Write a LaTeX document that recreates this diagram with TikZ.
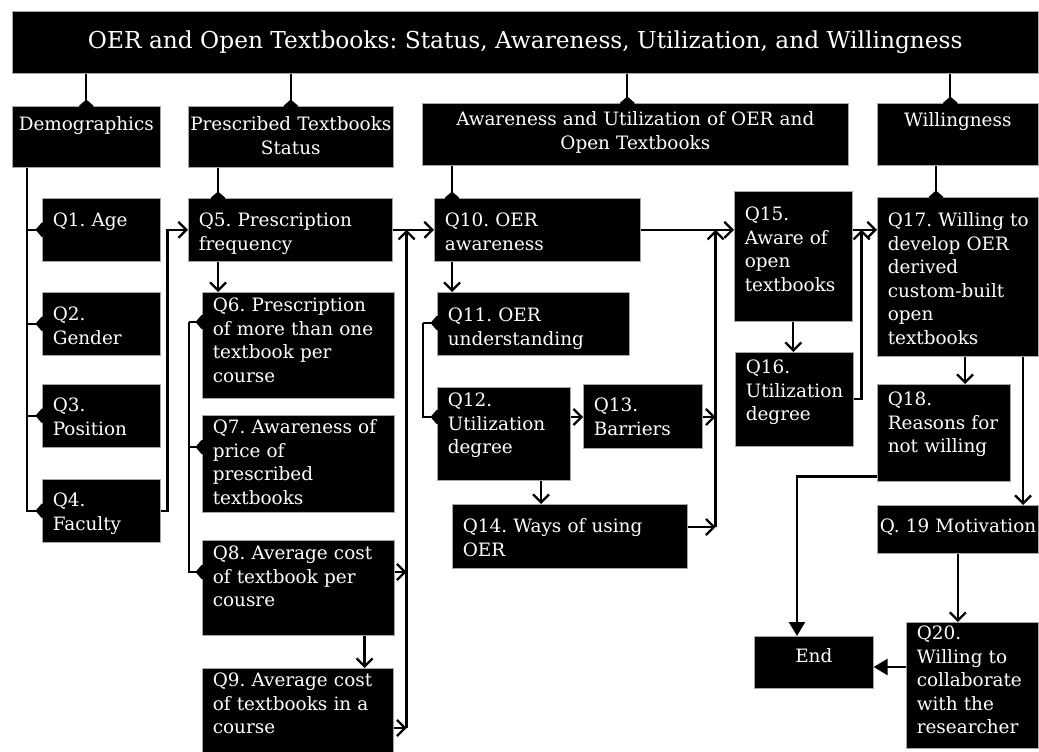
\documentclass[tikz,border=0pt]{standalone}
\usepackage{fontspec}
\setmainfont{DejaVu Serif}
\usetikzlibrary{positioning,arrows.meta,calc}
\hyphenpenalty=10000
\exhyphenpenalty=10000
\frenchspacing

\begin{document}
\begin{tikzpicture}[
  x=1pt, y=-1pt,
  box/.style={
    draw=black!35,
    line width=0.6pt,
    fill=black,
    text=white,
    anchor=north west,
    inner ysep=0pt,
    font=\fontsize{18.4}{23.5}\selectfont
  },
  % width, height, space above the first line
  qbox/.style n args={3}{
    box, align=left, inner xsep=10.5pt,
    text width=#1-21, text height=#3+13.4, text depth=#2-#3-13.4
  },
  hdr/.style n args={3}{
    box, align=center, inner xsep=0pt,
    text width=#1, text height=#3+13.4, text depth=#2-#3-13.4
  },
  tree/.style={line width=2.3pt, -{Diamond[length=13pt,width=15pt]}, shorten >=-6.5pt},
  flow/.style={line width=2.3pt, -{Straight Barb[length=8pt,width=16pt]}},
  stop/.style={line width=2.3pt, -{Triangle[length=14pt,width=16pt]}}
]
\useasboundingbox (0,0) rectangle (1039,752);

% =========================================================
% TITLE AND GROUPS
% =========================================================

\node[box, minimum width=1026pt, minimum height=62pt, inner sep=0pt,
  font=\fontsize{23.3}{28}\selectfont] (title) at (12,11)
{OER and Open Textbooks: Status, Awareness, Utilization, and Willingness};

\node[hdr={148}{61}{11}] (demo) at (12,106) {Demographics};
\node[hdr={205}{61}{11}] (presc) at (188,106) {Prescribed~Textbooks\\Status};
\node[hdr={426}{62}{9}] (aware) at (422,103)
{Awareness and Utilization of OER and\\Open Textbooks};
\node[hdr={161}{62}{10}] (will) at (877,103) {Willingness};

% =========================================================
% QUESTIONS
% =========================================================

\node[qbox={118}{63}{15}] (q1) at (42,198) {Q1. Age};
\node[qbox={118}{63}{15}] (q2) at (42,292) {Q2.\\Gender};
\node[qbox={118}{63}{14}] (q3) at (42,384) {Q3.\\Position};
\node[qbox={118}{63}{14}] (q4) at (42,479) {Q4.\\Faculty};

\node[qbox={204}{63}{15}] (q5) at (188,198) {Q5. Prescription\\frequency};
\node[qbox={192}{106}{6}] (q6) at (202,292)
{Q6. Prescription\\of~more~than~one\\textbook per\\course};
\node[qbox={192}{97}{5}] (q7) at (202,415)
{Q7.~Awareness~of\\price of\\prescribed\\textbooks};
\node[qbox={192}{95}{6}] (q8) at (202,540)
{Q8.~Average~cost\\of~textbook~per\\cousre};
\node[qbox={191}{84}{5}] (q9) at (202,668)
{Q9.~Average~cost\\of~textbooks~in~a\\course};

\node[qbox={206}{63}{15}] (q10) at (434,198) {Q10. OER\\awareness};
\node[qbox={192}{63}{16}] (q11) at (437,292) {Q11. OER\\understanding};
\node[qbox={133}{93}{6}] (q12) at (437,387) {Q12.\\Utilization\\degree};
\node[qbox={119}{64}{14}] (q13) at (583,384) {Q13.\\Barriers};
\node[qbox={235}{64}{15}] (q14) at (452,504) {Q14. Ways of using\\OER};

\node[qbox={118}{130}{16}] (q15) at (734,191) {Q15.\\Aware of\\open\\textbooks};
\node[qbox={118}{94}{8}] (q16) at (735,352) {Q16.\\Utilization\\degree};

\node[qbox={161}{159}{16}] (q17) at (877,197)
{Q17.~Willing~to\\develop OER\\derived\\custom-built\\open\\textbooks};
\node[qbox={133}{97}{8}] (q18) at (877,384) {Q18.\\Reasons~for\\not willing};
\node[qbox={161}{48}{14}, inner xsep=2.5pt, text width=156pt] (q19) at (877,505)
{Q.~19~Motivation};
\node[qbox={132}{126}{4}] (q20) at (906,622)
{Q20.\\Willing to\\collaborate\\with the\\researcher};
\node[hdr={119}{52}{13}] (fin) at (754,636) {End};

% =========================================================
% TREE LINKS
% =========================================================

\draw[tree] (title.south -| demo.north) -- (demo.north);
\draw[tree] (title.south -| presc.north) -- (presc.north);
\coordinate (a0) at ([xshift=-8pt]aware.north);
\draw[tree] (title.south -| a0) -- (a0);
\coordinate (w0) at ([xshift=-7.5pt]will.north);
\draw[tree] (title.south -| w0) -- (w0);

\coordinate (dbus) at ([xshift=15pt]demo.south west);
\foreach \q in {q1,q2,q3,q4}
  \draw[tree] (dbus) |- (\q.west);

\coordinate (p5) at ([xshift=30pt]q5.north west);
\draw[tree] (presc.south -| p5) -- (p5);

\coordinate (b6) at ([xshift=-13pt,yshift=-30pt]q6.north west);
\draw[tree] (b6) -- (b6 -| q6.west);
\draw[tree] (b6) |- ([yshift=-32pt]q7.north west);
\draw[tree] (b6) |- ([yshift=-32pt]q8.north west);

\coordinate (p10) at ([xshift=18pt]q10.north west);
\draw[tree] (aware.south -| p10) -- (p10);

\coordinate (b11) at ([xshift=-14pt,yshift=-31pt]q11.north west);
\draw[tree] (b11) -- (b11 -| q11.west);
\draw[tree] (b11) |- ([yshift=-30pt]q12.north west);

\coordinate (p17) at ([xshift=59pt]q17.north west);
\draw[tree] (will.south -| p17) -- (p17);

% =========================================================
% FLOW
% =========================================================

% prescribed textbooks
\draw[flow] (q4.east) -- ++(7,0) |- (q5.west);
\draw[flow] (q5.south -| p5) -- (q6.north -| p5);
\coordinate (p9) at ([xshift=-30pt]q8.south east);
\draw[flow] (p9) -- (p9 |- q9.north);

\coordinate (j1) at ([xshift=14pt]q5.east);
\coordinate (r8) at ([yshift=-32pt]q8.north east);
\coordinate (r9) at ([yshift=-60pt]q9.north east);
\draw[flow] (q5.east) -- (q10.west);
\draw[flow] (r8) -- (r8 -| j1);
\draw[flow] (r9) -- (r9 -| j1);
\draw[flow] (r9 -| j1) -- (j1);

% awareness and utilization
\draw[flow] (q10.south -| p10) -- (q11.north -| p10);
\coordinate (r12) at ([yshift=-30pt]q12.north east);
\draw[flow] (r12) -- (r12 -| q13.west);
\coordinate (p14) at ([xshift=104pt]q12.south west);
\draw[flow] (p14) -- (p14 |- q14.north);

\coordinate (j2) at ([xshift=75pt]q10.east);
\coordinate (r14) at ([yshift=-23pt]q14.north east);
\draw[flow] (r12 -| q13.east) -- (r12 -| j2);
\draw[flow] (r14) -- (r14 -| j2);
\draw[flow] (r14 -| j2) -- (j2);
\draw[flow] (q10.east) -- (q10.east -| q15.west);

\draw[flow] (q15.south) -- (q15.south |- q16.north);
\coordinate (j3) at ([xshift=221pt]q10.east);
\draw[flow] (q16.east) -| (j3);
\draw[flow] (q10.east -| q15.east) -- (q10.east -| q17.west);

% willingness
\coordinate (p18) at ([xshift=88pt]q17.south west);
\draw[flow] (p18) -- (p18 |- q18.north);
\coordinate (p19) at ([xshift=146pt]q17.south west);
\draw[flow] (p19) -- (p19 |- q19.north);
\draw[flow] (q19.south) -- (q19.south |- q20.north);

\coordinate (r18) at ([yshift=5pt]q18.south west);
\coordinate (pe) at ([xshift=43pt]fin.north west);
\draw[stop] (r18) -| (pe);
\coordinate (r20) at ([yshift=-45pt]q20.north west);
\draw[stop] (r20) -- (r20 -| fin.east);

\end{tikzpicture}
\end{document}
